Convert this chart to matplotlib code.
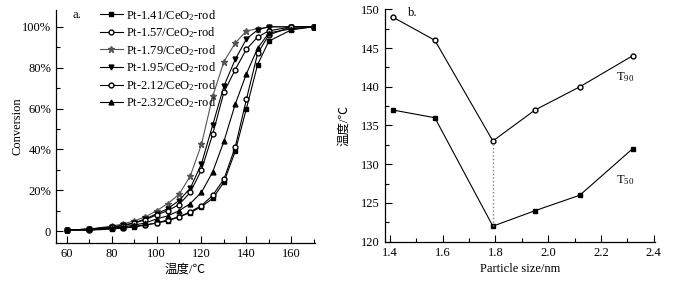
import matplotlib
matplotlib.use("Agg")
import matplotlib.pyplot as plt
from matplotlib.ticker import FuncFormatter, MultipleLocator

plt.rcParams['font.family'] = ['Liberation Serif', 'Noto Sans CJK SC']
plt.rcParams['mathtext.fontset'] = 'custom'
plt.rcParams['mathtext.rm'] = 'Liberation Serif'
plt.rcParams['mathtext.it'] = 'Liberation Serif:italic'
plt.rcParams['font.size'] = 9

# panel a: light-off curves
temps = [60, 70, 80, 85, 90, 95, 100, 105, 110, 115, 120, 125, 130, 135, 140, 145, 150, 160, 170]
conv_141 = [0.5, 0.5, 1, 1.5, 2, 3, 4, 5, 7, 9, 12, 16, 24, 39, 60, 81.5, 93, 98.5, 100]
conv_157 = [0.5, 0.5, 1.5, 1.5, 2.5, 3, 4, 5.5, 7, 9.5, 12.5, 17.5, 25.5, 41, 64.5, 87, 96, 100, 100]
conv_179 = [0.5, 1, 2.5, 3.5, 5, 7, 10, 13.5, 18, 27, 42.5, 66, 83, 92, 98, 99, 100, 100, 100]
conv_195 = [0.5, 1, 2, 3, 4, 6, 8.5, 11, 15, 21, 33, 52, 71, 84, 94, 98.5, 100, 100, 100]
conv_212 = [0.5, 1, 2, 2.5, 4, 5.5, 8, 10, 13, 19, 30, 47.5, 68, 79, 89, 95, 98, 100, 100]
conv_232 = [0.5, 1, 1.5, 2, 3, 4, 6, 7.5, 10, 13.5, 19, 29, 44, 62, 77, 89.5, 97, 99, 100]
labels_a = ['Pt-1.41/CeO$_{\\mathrm{2}}$-rod', 'Pt-1.57/CeO$_{\\mathrm{2}}$-rod',
            'Pt-1.79/CeO$_{\\mathrm{2}}$-rod', 'Pt-1.95/CeO$_{\\mathrm{2}}$-rod',
            'Pt-2.12/CeO$_{\\mathrm{2}}$-rod', 'Pt-2.32/CeO$_{\\mathrm{2}}$-rod']

# panel b: T50 / T90 vs particle size
sizes = [1.41, 1.57, 1.79, 1.95, 2.12, 2.32]
t90 = [149, 146, 133, 137, 140, 144]
t50 = [137, 136, 122, 124, 126, 132]


def pct(value, _):
    '''y tick labels in percent'''
    if abs(value) < 1e-9:
        return '0'
    return f'{int(round(value))}%'


def style_axes(ax):
    ax.spines['top'].set_visible(False)
    ax.spines['right'].set_visible(False)
    ax.tick_params(which='both', direction='in', width=0.8)
    ax.tick_params(which='major', length=5)
    ax.tick_params(which='minor', length=3)
    for s in ax.spines.values():
        s.set_linewidth(0.9)


fig = plt.figure(figsize=(6.89, 2.87), dpi=100)
ax1 = fig.add_axes([0.0813, 0.154, 0.3757, 0.811])
ax2 = fig.add_axes([0.5588, 0.158, 0.3919, 0.8096])

series = [
    (conv_141, 's', 'black', 'black', 3),
    (conv_157, 'o', 'black', 'white', 3.5),
    (conv_179, '*', '#555555', '#555555', 4.5),
    (conv_195, 'v', 'black', 'black', 3.5),
    (conv_212, 'o', 'black', 'white', 3.5),
    (conv_232, '^', 'black', 'black', 3.5),
]
for (vals, mk, col, fc, ms), lab in zip(series, labels_a):
    ax1.plot(temps, vals, marker=mk, color=col, mfc=fc, mec=col,
             ms=ms, lw=0.8, label=lab)

ax1.set_xlim(55.2, 170.5)
ax1.set_ylim(-5.7, 108.2)
ax1.xaxis.set_major_locator(MultipleLocator(20))
ax1.xaxis.set_minor_locator(MultipleLocator(10))
ax1.yaxis.set_major_locator(MultipleLocator(20))
ax1.yaxis.set_minor_locator(MultipleLocator(10))
ax1.yaxis.set_major_formatter(FuncFormatter(pct))
style_axes(ax1)
ax1.set_xlabel('温度/℃', labelpad=3)
ax1.set_ylabel('Conversion', labelpad=-1)
ax1.text(0.062, 0.978, 'a.', transform=ax1.transAxes, va='center', ha='left')
ax1.legend(loc='upper left', bbox_to_anchor=(0.17, 1.01), frameon=False,
           borderpad=0, borderaxespad=0, handlelength=1.8, handletextpad=0.3,
           labelspacing=0.22)

ax2.plot(sizes, t90, marker='o', color='black', mfc='white', ms=3.5, lw=0.8)
ax2.plot(sizes, t50, marker='s', color='black', ms=3, lw=0.8)
ax2.plot([sizes[2], sizes[2]], [t50[2], t90[2]], color='gray', ls=':', lw=1)
ax2.set_xlim(1.381, 2.405)
ax2.set_ylim(120, 150)
ax2.xaxis.set_major_locator(MultipleLocator(0.2))
ax2.xaxis.set_minor_locator(MultipleLocator(0.1))
ax2.yaxis.set_major_locator(MultipleLocator(5))
ax2.yaxis.set_minor_locator(MultipleLocator(2.5))
ax2.xaxis.set_major_formatter(FuncFormatter(lambda v, _: f'{v:.1f}'))
style_axes(ax2)
ax2.set_xlabel('Particle size/nm', labelpad=3)
ax2.set_ylabel('温度/℃', labelpad=8)
ax2.text(0.085, 0.984, 'b.', transform=ax2.transAxes, va='center', ha='left')
ax2.text(2.29, 141.3, 'T$_{\\mathrm{90}}$', ha='center', va='center')
ax2.text(2.29, 128.0, 'T$_{\\mathrm{50}}$', ha='center', va='center')

fig.savefig('out.png', dpi=100)
